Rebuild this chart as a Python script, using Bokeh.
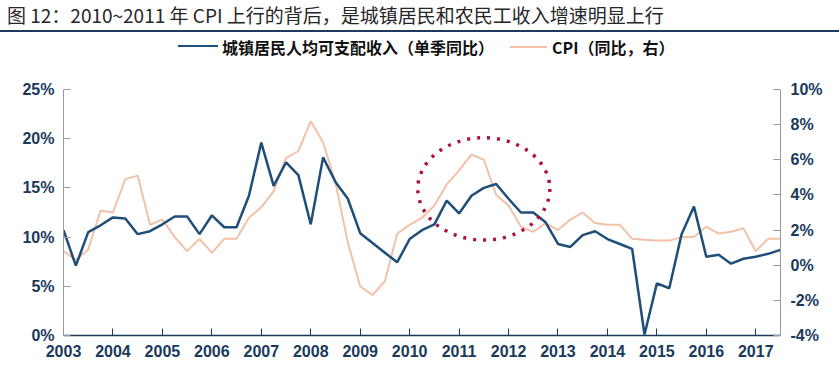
from bokeh.plotting import figure
from bokeh.models import Range1d, LinearAxis, FixedTicker, PrintfTickFormatter, Div
from bokeh.layouts import column
from bokeh.embed import file_html
from bokeh.resources import INLINE

# ---------------- data ----------------
years = list(range(2003, 2018))
quarters = [f"{y}Q{q}" for y in years for q in (1, 2, 3, 4)][:59]  # 2003Q1 .. 2017Q3

income = [10.7, 7.1, 10.5, 11.2, 12.0, 11.9, 10.3, 10.6, 11.3, 12.1,
          12.1, 10.3, 12.2, 11.0, 11.0, 14.2, 19.6, 15.2, 17.6, 16.3,
          11.3, 18.1, 15.6, 13.9, 10.4, 9.4, 8.4, 7.45, 9.8, 10.7,
          11.3, 13.7, 12.4, 14.2, 15.0, 15.4, 13.9, 12.5, 12.5, 11.5,
          9.3, 9.0, 10.2, 10.6, 9.8, 9.3, 8.8, 0.1, 5.3, 4.8,
          10.3, 13.1, 8.0, 8.2, 7.3, 7.8, 8.0, 8.3, 8.7]

cpi = [0.8, 0.3, 0.9, 3.1, 3.0, 4.9, 5.1, 2.3, 2.6, 1.6,
       0.8, 1.5, 0.7, 1.5, 1.5, 2.7, 3.3, 4.2, 6.1, 6.5,
       8.2, 7.0, 4.7, 1.3, -1.2, -1.7, -0.9, 1.8, 2.3, 2.7,
       3.4, 4.6, 5.4, 6.3, 6.0, 4.0, 3.4, 2.2, 1.9, 2.4,
       2.0, 2.6, 3.0, 2.4, 2.3, 2.3, 1.5, 1.45, 1.4, 1.4,
       1.6, 1.6, 2.2, 1.8, 1.9, 2.1, 0.8, 1.5, 1.5]

left_ticks = [0, 5, 10, 15, 20, 25]
right_ticks = [-4, -2, 0, 2, 4, 6, 8, 10]

title_text = "图 12：2010~2011 年 CPI 上行的背后，是城镇居民和农民工收入增速明显上行"
income_label = "城镇居民人均可支配收入（单季同比）"
cpi_label = "CPI（同比，右）"

# highlight ellipse (data units: year, left-axis %)
circle_x, circle_y, circle_w, circle_h = 2011.5, 14.9, 2.67, 10.4

# ---------------- styles ----------------
BLUE = "#1F4E79"
PEACH = "#F3C1A8"
NAVY = "#1A3A5C"
RED = "#B0103A"
GRAY = "#9A9A9A"

W, H = 839, 376
HEAD_H = 76
FL, FR, FT, FB = 63, 780, 89, 335       # frame edges in window pixels

xs = [int(s[:4]) + (int(s[5]) - 1) / 4 for s in quarters]

# ---------------- header: title, rule, legend ----------------
font = "'Noto Sans CJK SC', sans-serif"
head_html = f"""
<div style="position:relative;width:{W}px;height:{HEAD_H}px;font-family:{font};">
  <div style="position:absolute;left:7px;top:1px;font-size:19px;line-height:28px;color:#262626;white-space:nowrap;">{title_text}</div>
  <div style="position:absolute;left:0;top:30px;width:{W}px;height:2px;background:#1F3A5F;"></div>
  <div style="position:absolute;left:178px;top:45px;width:40px;height:0;border-top:2.5px solid {BLUE};"></div>
  <div style="position:absolute;left:222px;top:36px;font-size:16px;font-weight:bold;line-height:22px;color:#111;white-space:nowrap;">{income_label}</div>
  <div style="position:absolute;left:510px;top:46px;width:37px;height:0;border-top:2px solid {PEACH};"></div>
  <div style="position:absolute;left:552px;top:36px;font-size:16px;font-weight:bold;line-height:22px;color:#111;white-space:nowrap;">{cpi_label}</div>
</div>
"""
head = Div(text=head_html, width=W, height=HEAD_H, margin=(0, 0, 0, 0))

# ---------------- chart ----------------
p = figure(width=W, height=H - HEAD_H, x_range=Range1d(2003, 2017.5), y_range=Range1d(0, 25),
           toolbar_location=None, output_backend="svg",
           min_border_left=FL, min_border_right=W - FR, min_border_top=FT - HEAD_H,
           min_border_bottom=H - FB)
p.outline_line_color = None
p.grid.visible = False
p.extra_y_ranges = {"cpi": Range1d(-4, 10)}

p.line(xs, cpi, y_range_name="cpi", line_color=PEACH, line_width=2)
p.line(xs, income, line_color=BLUE, line_width=2.5)
p.ellipse(x=[circle_x], y=[circle_y], width=[circle_w], height=[circle_h],
          fill_color=None, line_color=RED, line_width=3.5, line_dash="3 7")

right = LinearAxis(y_range_name="cpi")
p.add_layout(right, "right")

def style_axis(ax, line_color, standoff):
    ax.axis_line_color = line_color
    ax.major_tick_line_color = line_color
    ax.major_tick_in = 7
    ax.major_tick_out = 0
    ax.minor_tick_line_color = None
    ax.major_label_text_font = "Liberation Sans"
    ax.major_label_text_font_style = "bold"
    ax.major_label_text_font_size = "16px"
    ax.major_label_text_color = NAVY
    ax.major_label_standoff = standoff

xa = p.xaxis[0]
style_axis(xa, NAVY, 9)
xa.axis_line_width = 1.5
xa.ticker = FixedTicker(ticks=years)

la = p.yaxis[0]
style_axis(la, GRAY, 9)
la.ticker = FixedTicker(ticks=left_ticks)
la.formatter = PrintfTickFormatter(format="%d%%")

style_axis(right, GRAY, 10)
right.ticker = FixedTicker(ticks=right_ticks)
right.formatter = PrintfTickFormatter(format="%d%%")

open("out.html", "w").write(file_html(column(head, p, spacing=0), INLINE))
